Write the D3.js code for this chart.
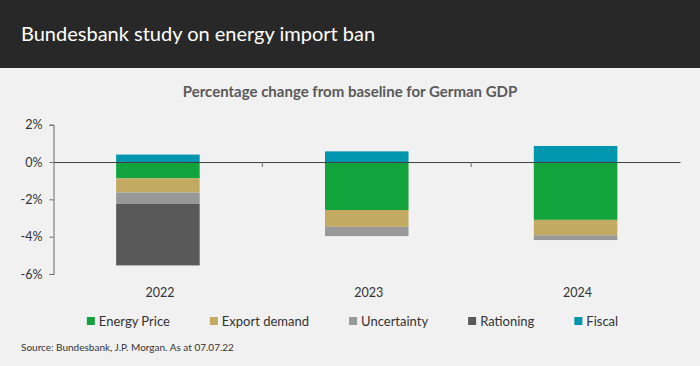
<!DOCTYPE html>
<html lang="en">
  <head>
    <meta charset="utf-8">
    <title>Bundesbank study on energy import ban</title>
    <script src="https://cdn.jsdelivr.net/npm/d3@7"></script>
    <style type="text/css">
    body {
      margin: 0;
      background-color: #f1f1f1;
    }
    svg text {
      font-family: Lato, "Noto Sans", sans-serif;
    }
    .title {
      fill: #ffffff;
      font-size: 20px;
    }
    .subtitle {
      fill: #595959;
      font-size: 15px;
      font-weight: bold;
      text-anchor: middle;
    }
    .axis_label {
      fill: #333333;
      font-size: 12.5px;
    }
    .legend_text {
      fill: #333333;
      font-size: 13px;
    }
    .source {
      fill: #333333;
      font-size: 10px;
    }
    </style>
  </head>
  <body>
    <script type="text/javascript">
    // data
    var years = ["2022", "2023", "2024"];
    var seriesNames = ["Energy Price", "Export demand", "Uncertainty", "Rationing", "Fiscal"];
    var energyPrice = [-0.87, -2.57, -3.1];
    var exportDemand = [-0.77, -0.9, -0.83];
    var uncertainty = [-0.6, -0.5, -0.25];
    var rationing = [-3.3, 0, 0];
    var fiscal = [0.4, 0.57, 0.86];
    var yTicks = [2, 0, -2, -4, -6];

    var svgWidth = 700;
    var svgHeight = 366;
    var plotLeft = 53.5;
    var plotRight = 680;
    var plotTop = 124.7;
    var plotBottom = 274;

    var colorScale = d3.scaleOrdinal()
      .domain(seriesNames)
      .range(["#12a33d", "#c3aa62", "#989898", "#595959", "#0096ae"]);

    // table for d3.stack
    var table = years.map(function(y, i) {
      return {
        year: y,
        "Energy Price": energyPrice[i],
        "Export demand": exportDemand[i],
        "Uncertainty": uncertainty[i],
        "Rationing": rationing[i],
        "Fiscal": fiscal[i]
      };
    });

    var stack = d3.stack()
      .keys(seriesNames)
      .offset(d3.stackOffsetDiverging);
    var stacked = stack(table);

    var svg = d3.select("body")
      .append("svg")
      .attr("width", svgWidth)
      .attr("height", svgHeight);

    // header band
    svg.append("rect")
      .attr("x", 0).attr("y", 0)
      .attr("width", svgWidth).attr("height", 68)
      .attr("fill", "#282828");

    svg.append("text")
      .attr("class", "title")
      .attr("x", 21)
      .attr("y", 40.5)
      .text("Bundesbank study on energy import ban");

    svg.append("text")
      .attr("class", "subtitle")
      .attr("x", 350)
      .attr("y", 96.5)
      .text("Percentage change from baseline for German GDP");

    var x = d3.scaleBand()
      .domain(years)
      .range([plotLeft, plotRight])
      .padding(0);

    var y = d3.scaleLinear()
      .domain([-6, 2])
      .range([plotBottom, plotTop]);

    // bars
    var barFrac = 0.4;
    svg.append("g")
      .selectAll("g")
      .data(stacked)
      .enter()
      .append("g")
      .attr("fill", function(d) { return colorScale(d.key); })
      .selectAll("rect")
      .data(function(d) { return d; })
      .enter()
      .append("rect")
      .attr("x", function(d) { return x(d.data.year) + x.bandwidth() * (1 - barFrac) / 2; })
      .attr("width", x.bandwidth() * barFrac)
      .attr("y", function(d) { return y(Math.max(d[0], d[1])); })
      .attr("height", function(d) { return Math.abs(y(d[0]) - y(d[1])); });

    // y axis
    var yAxis = d3.axisLeft(y)
      .tickValues(yTicks)
      .tickSize(4)
      .tickPadding(7)
      .tickFormat(function(d) { return d + "%"; });

    var yg = svg.append("g")
      .attr("transform", "translate(" + plotLeft + ",0)")
      .call(yAxis);
    yg.select(".domain").attr("stroke", "#6b6b6b");
    yg.selectAll(".tick line").attr("stroke", "#6b6b6b");
    yg.selectAll(".tick text")
      .attr("class", "axis_label")
      .attr("font-family", null)
      .attr("font-size", null);

    // zero line with category ticks
    var xAxis = d3.axisBottom(x)
      .tickSize(0)
      .tickFormat("");
    var xg = svg.append("g")
      .attr("transform", "translate(0," + y(0) + ")")
      .call(xAxis);
    xg.select(".domain").attr("stroke", "#404040");

    svg.append("g")
      .selectAll("line")
      .data(years.slice(1))
      .enter()
      .append("line")
      .attr("x1", function(d) { return x(d); })
      .attr("x2", function(d) { return x(d); })
      .attr("y1", y(0))
      .attr("y2", y(0) + 5)
      .attr("stroke", "#6b6b6b");

    // category labels
    svg.append("g")
      .selectAll("text")
      .data(years)
      .enter()
      .append("text")
      .attr("class", "axis_label")
      .attr("x", function(d) { return x(d) + x.bandwidth() / 2 + 2; })
      .attr("y", 297)
      .attr("text-anchor", "middle")
      .text(function(d) { return d; });

    // legend, laid out from measured text widths
    var legend = svg.append("g");
    var items = legend.selectAll("g")
      .data(seriesNames)
      .enter()
      .append("g");
    items.append("rect")
      .attr("width", 8)
      .attr("height", 8)
      .attr("y", -9)
      .attr("fill", function(d) { return colorScale(d); });
    items.append("text")
      .attr("class", "legend_text")
      .attr("x", 12)
      .text(function(d) { return d; });

    var pos = 0;
    var lastEnd = 0;
    items.each(function() {
      var w = d3.select(this).select("text").node().getComputedTextLength();
      d3.select(this).attr("transform", "translate(" + pos + ",0)");
      lastEnd = pos + 12 + w;
      pos = lastEnd + 40;
    });
    legend.attr("transform", "translate(" + (352.5 - lastEnd / 2) + ",326)");

    svg.append("text")
      .attr("class", "source")
      .attr("x", 21)
      .attr("y", 351)
      .text("Source: Bundesbank, J.P. Morgan. As at 07.07.22");
    </script>
  </body>
</html>
